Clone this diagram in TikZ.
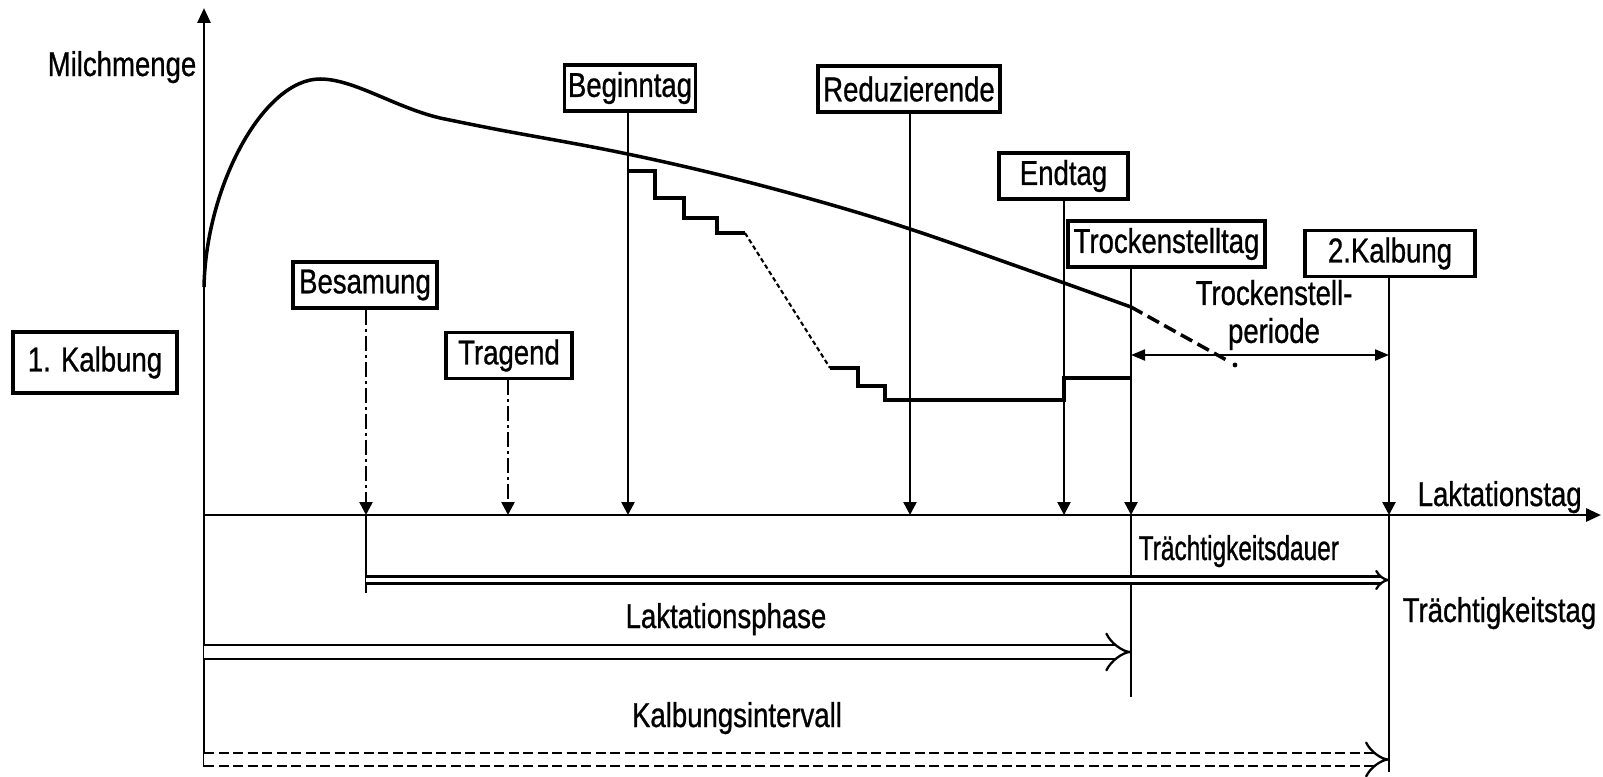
\documentclass[tikz,border=0pt]{standalone}
\usepackage{fontspec}
\setmainfont{Liberation Sans}[FakeStretch=0.8, FakeBold=0.8]
\newfontfamily\condfont{Liberation Sans}[FakeStretch=0.71, FakeBold=0.8]
\usetikzlibrary{arrows.meta}
\newcommand\lblsize{\fontsize{9.8}{10.8}\selectfont}

\begin{document}
\begin{tikzpicture}[
    font=\lblsize,
    tag/.style={draw=black, line width=0.9pt, minimum height=0.46cm, inner sep=1pt},
    txt/.style={inner sep=0pt},
    ax/.style={line width=0.8pt, -{Triangle[length=1.5mm, width=1.3mm]}},
    mk/.style={line width=0.7pt, -{Triangle[length=1.3mm, width=1.3mm]}},
    dotdash/.style={dash pattern=on 1.5mm off 0.4mm on 0.3mm off 0.4mm},
    milk/.style={line width=1pt},
    dbl/.style={double, line width=0.65pt, -{Implies}}
  ]
    \useasboundingbox (-2.04,-2.61) rectangle (13.99,5.15);

    % Achsen
    \coordinate (O) at (0,0);
    \coordinate (ytop) at (0,5.07);
    \coordinate (ybot) at (0,-2.52);
    \coordinate (xend) at (13.97,0);
    \draw[ax] (ybot) -- (ytop);
    \draw[ax] (O) -- (xend);
    \node[txt, anchor=base east] (ylab) at (-0.07,4.39) {Milchmenge};
    \node[txt, anchor=base west] (xlab) at (12.13,0.09) {Laktationstag};

    % Tage auf der Achse
    \coordinate (tBes) at (1.62,0);
    \coordinate (tTra) at (3.04,0);
    \coordinate (tBeg) at (4.24,0);
    \coordinate (tRed) at (7.06,0);
    \coordinate (tEnd) at (8.60,0);
    \coordinate (tTro) at (9.27,0);
    \coordinate (tKal) at (11.85,0);

    % Kaesten
    \node[tag, minimum width=1.64cm, minimum height=0.61cm] (k1) at (-1.09,1.525) {1. Kalbung};
    \node[tag, minimum width=1.44cm] (bes) at (1.61,2.30) {Besamung};
    \node[tag, minimum width=1.26cm] (tra) at (3.05,1.595) {Tragend};
    \node[tag, minimum width=1.30cm] (beg) at (4.26,4.27) {Beginntag};
    \node[tag, minimum width=1.82cm] (red) at (7.05,4.26) {Reduzierende};
    \node[tag, minimum width=1.29cm] (endt) at (8.595,3.39) {Endtag};
    \node[tag, minimum width=1.97cm] (tro) at (9.625,2.71) {Trockenstelltag};
    \node[tag, minimum width=1.70cm] (k2) at (11.86,2.615) {2.Kalbung};

    % Markierungen
    \draw[mk, dotdash] (bes.south -| tBes) -- (tBes);
    \draw[mk, dotdash] (tra.south -| tTra) -- (tTra);
    \draw[mk] (beg.south -| tBeg) -- (tBeg);
    \draw[mk] (red.south -| tRed) -- (tRed);
    \draw[mk] (endt.south -| tEnd) -- (tEnd);
    \draw[mk] (tro.south -| tTro) -- (tTro);
    \draw[mk] (k2.south -| tKal) -- (tKal);

    % unter der Achse
    \coordinate (bBes) at (1.62,-0.78);
    \coordinate (bTro) at (9.27,-1.82);
    \coordinate (bKal) at (11.85,-2.57);
    \draw[line width=0.7pt] (tBes) -- (bBes);
    \draw[line width=0.7pt] (tTro) -- (bTro);
    \draw[line width=0.7pt] (tKal) -- (bKal);

    % Milchmenge
    \draw[milk] (0,2.28) .. controls (0.02,3.3) and (0.6,4.36) .. (1.16,4.36)
        .. controls (1.5,4.36) and (1.9,4.08) .. (2.36,3.97)
        -- plot[smooth, tension=0.6] coordinates {(2.36,3.97) (2.96,3.85) (4.09,3.64) (5.12,3.41) (6.14,3.14) (7.06,2.86) (8.18,2.47) (9.27,2.08)};
    \coordinate (dryS) at (9.27,2.08);
    \coordinate (dryE) at (10.26,1.53);
    \draw[milk, dash pattern=on 1.3mm off 0.6mm] (dryS) -- (dryE);
    \fill (10.31,1.50) circle (0.024);

    % Treppe
    \draw[milk] (4.24,3.44) -- (4.51,3.44) -- (4.51,3.17) -- (4.80,3.17) -- (4.80,2.97) -- (5.13,2.97) -- (5.13,2.82) -- (5.41,2.82);
    \draw[line width=0.6pt, dash pattern=on 0.45mm off 0.3mm] (5.41,2.82) -- (6.26,1.47);
    \draw[milk] (6.26,1.47) -- (6.54,1.47) -- (6.54,1.29) -- (6.81,1.29) -- (6.81,1.15) -- (8.60,1.15) -- (8.60,1.37) -- (9.27,1.37);

    % Trockenstellperiode
    \coordinate (rowTp) at (0,1.60);
    \draw[line width=0.6pt, {Triangle[length=1.4mm, width=1.1mm]}-{Triangle[length=1.4mm, width=1.1mm]}] (tTro |- rowTp) -- (tKal |- rowTp);
    \node[align=center] (tp) at (10.70,2.00) {Trockenstell-\\periode};

    % Dauer
    \coordinate (rowTd) at (0,-0.65);
    \coordinate (rowLp) at (0,-1.37);
    \coordinate (rowKi) at (0,-2.445);
    \draw[dbl, double distance=0.45mm] (tBes |- rowTd) -- (tKal |- rowTd);
    \draw[dbl, double distance=1.15mm] (rowLp) -- (tTro |- rowLp);
    \draw[dbl, double distance=1.05mm, dash pattern=on 1mm off 0.45mm] (rowKi) -- (tKal |- rowKi);
    \node[txt, anchor=base west, font=\condfont\lblsize] (td) at (9.34,-0.45) {Trächtigkeitsdauer};
    \node[txt, anchor=base west] (ttag) at (11.98,-1.07) {Trächtigkeitstag};
    \node[anchor=base] (lp) at (5.22,-1.13) {Laktationsphase};
    \node[anchor=base] (ki) at (5.33,-2.12) {Kalbungsintervall};
  \end{tikzpicture}
\end{document}
